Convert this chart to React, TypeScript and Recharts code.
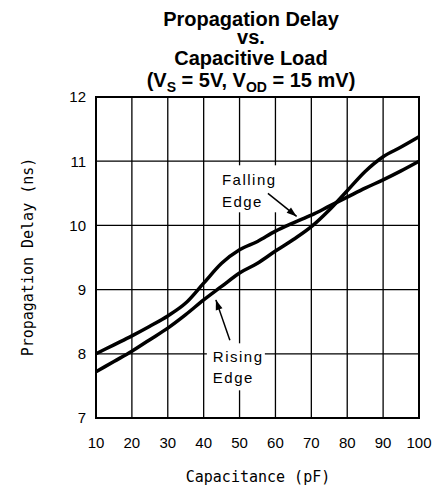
import { LineChart, Line, XAxis, YAxis, CartesianGrid, ReferenceArea, ReferenceLine } from 'recharts';

// values
const capacitance = [10, 15, 20, 25, 30, 35, 40, 45, 50, 55, 60, 65, 70, 75, 80, 85, 90, 95, 100];
const fallingEdge = [8.0, 8.14, 8.28, 8.43, 8.59, 8.79, 9.1, 9.41, 9.62, 9.75, 9.91, 10.04, 10.16, 10.3, 10.44, 10.58, 10.71, 10.85, 11.0];
const risingEdge = [7.72, 7.88, 8.04, 8.22, 8.4, 8.61, 8.84, 9.05, 9.26, 9.41, 9.6, 9.78, 9.98, 10.24, 10.54, 10.84, 11.07, 11.22, 11.38];
const xTicks = [10, 20, 30, 40, 50, 60, 70, 80, 90, 100];
const yTicks = [7, 8, 9, 10, 11, 12];

const rows = capacitance.map((c, i) => ({ c, falling: fallingEdge[i], rising: risingEdge[i] }));

const tickFont = { fontFamily: '"Liberation Sans", Arial, sans-serif', fontSize: 15, fill: '#000' };
const noteFont = { fontFamily: '"Liberation Sans", Arial, sans-serif', fontSize: 15, letterSpacing: 1.5 };
const monoFont = '"DejaVu Sans Mono", monospace';

function arrowHead(x1: number, y1: number, x2: number, y2: number) {
  const a = Math.atan2(y2 - y1, x2 - x1);
  const len = 10;
  const w = 3.5;
  const bx = x2 - len * Math.cos(a);
  const by = y2 - len * Math.sin(a);
  const px = -Math.sin(a) * w;
  const py = Math.cos(a) * w;
  return `${x2},${y2} ${bx + px},${by + py} ${bx - px},${by - py}`;
}

// label box + text are placed relative to the arrow tail
const FallingNote = (p: any) => (
  <g>
    <rect x={p.x1 - 58} y={p.y1 - 28} width={75} height={47} fill="#fff" />
    <text x={p.x1 - 46} y={p.y1 - 8} style={noteFont}>Falling</text>
    <text x={p.x1 - 46} y={p.y1 + 14} style={noteFont}>Edge</text>
    <line x1={p.x1} y1={p.y1} x2={p.x2} y2={p.y2} stroke="#000" strokeWidth={1.5} />
    <polygon points={arrowHead(p.x1, p.y1, p.x2, p.y2)} fill="#000" />
  </g>
);

const RisingNote = (p: any) => (
  <g>
    <rect x={p.x1 - 23} y={p.y1 + 3} width={58} height={47} fill="#fff" />
    <text x={p.x1 - 17} y={p.y1 + 22} style={noteFont}>Rising</text>
    <text x={p.x1 - 17} y={p.y1 + 43} style={noteFont}>Edge</text>
    <line x1={p.x1} y1={p.y1} x2={p.x2} y2={p.y2} stroke="#000" strokeWidth={1.5} />
    <polygon points={arrowHead(p.x1, p.y1, p.x2, p.y2)} fill="#000" />
  </g>
);

export default function App() {
  const titleStyle = { fontFamily: '"Liberation Sans", Arial, sans-serif', fontSize: 20, fontWeight: 'bold' as const };
  return (
    <div style={{ position: 'absolute', left: 0, top: 0, width: 436, height: 491, background: '#fff' }}>
      <LineChart width={436} height={491} data={rows} margin={{ top: 97, right: 17, bottom: 0, left: 0 }}>
        <CartesianGrid stroke="#000" strokeWidth={1.3} horizontalValues={yTicks} verticalValues={xTicks} />
        <XAxis
          dataKey="c"
          type="number"
          domain={[10, 100]}
          ticks={xTicks}
          height={73}
          axisLine={false}
          tickLine={false}
          tickSize={0}
          tickMargin={19}
          tick={tickFont}
          interval={0}
        />
        <YAxis
          type="number"
          domain={[7, 12]}
          ticks={yTicks}
          width={96}
          axisLine={false}
          tickLine={false}
          tickSize={0}
          tickMargin={10}
          tick={tickFont}
          interval={0}
        />
        <ReferenceArea x1={10} x2={100} y1={7} y2={12} fill="none" stroke="#000" strokeWidth={2} />
        <Line dataKey="falling" type="monotone" stroke="#000" strokeWidth={3.5} dot={false} isAnimationActive={false} />
        <Line dataKey="rising" type="monotone" stroke="#000" strokeWidth={3.5} dot={false} isAnimationActive={false} />
        <ReferenceLine segment={[{ x: 57.9, y: 10.5 }, { x: 65.9, y: 10.14 }]} shape={FallingNote} />
        <ReferenceLine segment={[{ x: 47.3, y: 8.21 }, { x: 43.4, y: 8.84 }]} shape={RisingNote} />
      </LineChart>
      <svg width={436} height={491} style={{ position: 'absolute', left: 0, top: 0, pointerEvents: 'none' }}>
        {/* title as one block of lines */}
        <text style={titleStyle} textAnchor="middle">
          <tspan x={251} y={26}>Propagation Delay</tspan>
          <tspan x={251} y={44}>vs.</tspan>
          <tspan x={251} y={65}>Capacitive Load</tspan>
          <tspan x={251} y={87}>(V</tspan>
          <tspan fontSize={14} dy={5}>S</tspan>
          <tspan dy={-5}> = 5V, V</tspan>
          <tspan fontSize={14} dy={5}>OD</tspan>
          <tspan dy={-5}> = 15 mV)</tspan>
        </text>
        <text x={258} y={482} textAnchor="middle" fontFamily={monoFont} fontSize={15}>Capacitance (pF)</text>
        <text x={-257} y={33} transform="rotate(-90)" textAnchor="middle" fontFamily={monoFont} fontSize={15}>
          Propagation Delay (ns)
        </text>
      </svg>
    </div>
  );
}
